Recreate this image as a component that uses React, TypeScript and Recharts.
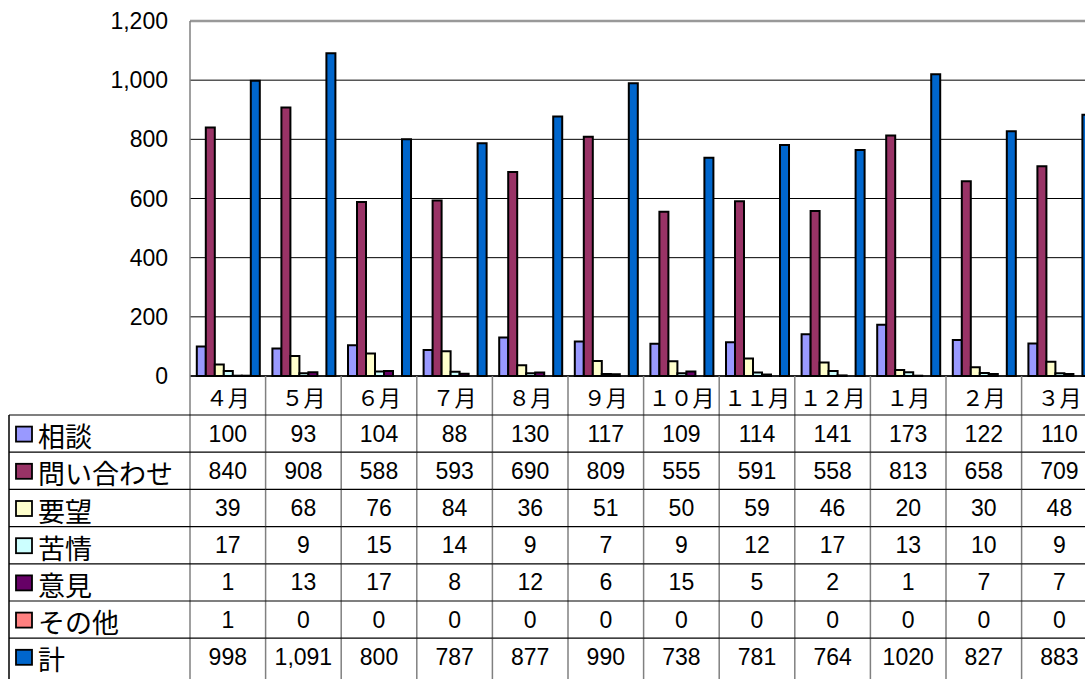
import { BarChart, Bar, XAxis, YAxis, CartesianGrid, ReferenceLine } from "recharts";

// months (full-width digits like the original sheet)
const months = ["４月", "５月", "６月", "７月", "８月", "９月", "１０月", "１１月", "１２月", "１月", "２月", "３月"];

const soudan = [100, 93, 104, 88, 130, 117, 109, 114, 141, 173, 122, 110];
const toiawase = [840, 908, 588, 593, 690, 809, 555, 591, 558, 813, 658, 709];
const youbou = [39, 68, 76, 84, 36, 51, 50, 59, 46, 20, 30, 48];
const kujou = [17, 9, 15, 14, 9, 7, 9, 12, 17, 13, 10, 9];
const iken = [1, 13, 17, 8, 12, 6, 15, 5, 2, 1, 7, 7];
const sonota = [1, 0, 0, 0, 0, 0, 0, 0, 0, 0, 0, 0];
const total = [998, 1091, 800, 787, 877, 990, 738, 781, 764, 1020, 827, 883];
const totalLabels = ["998", "1,091", "800", "787", "877", "990", "738", "781", "764", "1020", "827", "883"];

const yTicks = [0, 200, 400, 600, 800, 1000, 1200];

const series = [
  { key: "soudan", name: "相談", color: "#9999FF", values: soudan },
  { key: "toiawase", name: "問い合わせ", color: "#993366", values: toiawase },
  { key: "youbou", name: "要望", color: "#FFFFCC", values: youbou },
  { key: "kujou", name: "苦情", color: "#CCFFFF", values: kujou },
  { key: "iken", name: "意見", color: "#660066", values: iken },
  { key: "sonota", name: "その他", color: "#FF8080", values: sonota },
  { key: "total", name: "計", color: "#0066CC", values: total },
];

const chartData = months.map((m, i) => {
  const row: Record<string, string | number> = { month: m };
  series.forEach((s) => {
    row[s.key] = s.values[i];
  });
  return row;
});

const COL_W = 75.6;
const PLOT_LEFT = 190;
const TABLE_LEFT = 9;
const HEADER_H = 39;
const ROW_H = 37.2;
const CHART_W = 1110;
const CHART_H = 679;
const AXIS_H = 303;

const numFont = "'Liberation Sans', Arial, sans-serif";
const jpFont = "'Noto Sans CJK JP', sans-serif";

// draws one column of the data table under each category
const TableTick = (props: any) => {
  const { x, y, payload } = props;
  const i = payload.index;
  const left = x - COL_W / 2;
  const right = x + COL_W / 2;
  const rowsTop = y + HEADER_H;

  return (
    <g>
      <line x1={right} y1={y} x2={right} y2={CHART_H} stroke="#808080" strokeWidth={1.5} />
      {i === 0 && <line x1={left} y1={y} x2={left} y2={CHART_H} stroke="#808080" strokeWidth={1.5} />}
      <text
        x={x}
        y={y + HEADER_H / 2}
        textAnchor="middle"
        dominantBaseline="central"
        fontFamily={jpFont}
        fontSize={22}
        fill="#000"
      >
        {payload.value}
      </text>
      {series.map((s, k) => {
        const top = rowsTop + k * ROW_H;
        const label = s.key === "total" ? totalLabels[i] : String(s.values[i]);
        return (
          <g key={s.key}>
            <line x1={left} y1={top} x2={right} y2={top} stroke="#000" strokeWidth={1.2} />
            <text
              x={x}
              y={top + ROW_H / 2}
              textAnchor="middle"
              dominantBaseline="central"
              fontFamily={numFont}
              fontSize={23}
              fill="#000"
            >
              {label}
            </text>
          </g>
        );
      })}
      {i === 0 && (
        <g>
          <line x1={TABLE_LEFT} y1={rowsTop} x2={TABLE_LEFT} y2={CHART_H} stroke="#000" strokeWidth={1.5} />
          {series.map((s, k) => {
            const top = rowsTop + k * ROW_H;
            return (
              <g key={s.key}>
                <line x1={TABLE_LEFT} y1={top} x2={left} y2={top} stroke="#000" strokeWidth={1.2} />
                <rect
                  x={16}
                  y={top + ROW_H / 2 - 7}
                  width={16}
                  height={15}
                  fill={s.color}
                  stroke="#000"
                  strokeWidth={1.8}
                />
                <text
                  x={38}
                  y={top + ROW_H / 2 + 2}
                  dominantBaseline="central"
                  fontFamily={jpFont}
                  fontSize={27}
                  fill="#000"
                >
                  {s.name}
                </text>
              </g>
            );
          })}
        </g>
      )}
    </g>
  );
};

export default function App() {
  return (
    <div
      style={{
        position: "fixed",
        left: 0,
        top: 0,
        width: 1085,
        height: 679,
        overflow: "hidden",
        background: "#fff",
      }}
    >
      <BarChart
        width={CHART_W}
        height={CHART_H}
        data={chartData}
        margin={{ top: 21, right: CHART_W - PLOT_LEFT - COL_W * 12, left: 0, bottom: 0 }}
        barGap={0}
        barCategoryGap="9%"
      >
        <CartesianGrid vertical={false} stroke="#000" strokeWidth={1} />
        <XAxis
          dataKey="month"
          height={AXIS_H}
          interval={0}
          tickLine={false}
          tickSize={0}
          tickMargin={0}
          axisLine={false}
          tick={<TableTick />}
        />
        <YAxis
          width={PLOT_LEFT}
          domain={[0, 1200]}
          ticks={yTicks}
          tickLine={false}
          tickSize={0}
          tickMargin={22}
          axisLine={{ stroke: "#808080", strokeWidth: 1.5 }}
          tickFormatter={(v: number) => v.toLocaleString("en-US")}
          tick={{ fill: "#000", fontSize: 23, fontFamily: numFont }}
        />
        {series.map((s) => (
          <Bar
            key={s.key}
            dataKey={s.key}
            name={s.name}
            fill={s.color}
            stroke="#000"
            strokeWidth={2}
            isAnimationActive={false}
          />
        ))}
        <ReferenceLine y={1200} stroke="#999" strokeWidth={2.5} />
        <ReferenceLine y={0} stroke="#000" strokeWidth={1.5} />
      </BarChart>
    </div>
  );
}
